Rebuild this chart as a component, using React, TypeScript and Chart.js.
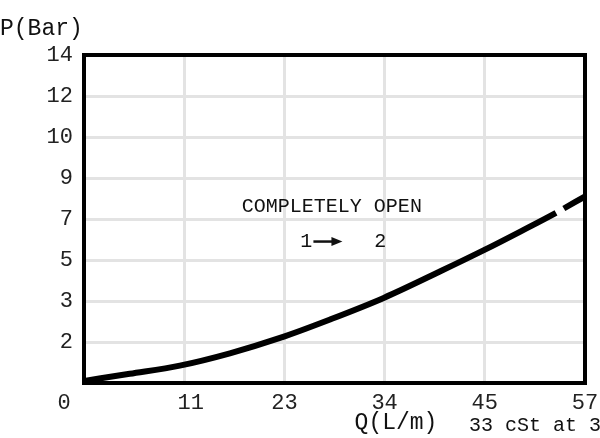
import React, { useEffect, useRef } from "react";
import { Chart, registerables } from "chart.js";

Chart.register(...registerables);

// Flow Q (L/m) and pressure P (Bar)
const flowQ = [0, 5.2, 10.9, 16.6, 22.3, 28.0, 34.1, 40.6, 45.5, 49.7, 53.7, 57];
const pressureBar = [0.1, 0.45, 0.85, 1.45, 2.1, 2.55, 3.15, 4.46, 5.48, 6.4, 7.3, 8.1];

// Y axis: evenly spaced grid rows carrying these (non-linear) pressure labels
const yTickValues = [0, 2, 3, 5, 7, 9, 10, 12, 14];
const yTickLabels = ["", "2", "3", "5", "7", "9", "10", "12", "14"];

// X axis labels on 5 equal divisions of 0..57
const xTickLabels = ["0", "11", "23", "34", "45", "57"];
const xMax = 57;

const MONO = "'Liberation Mono', 'DejaVu Sans Mono', monospace";

// Map a pressure to its position on the evenly spaced axis rows
function toRow(p: number): number {
  for (let i = 0; i < yTickValues.length - 1; i++) {
    const a = yTickValues[i];
    const b = yTickValues[i + 1];
    if (p <= b) return i + (p - a) / (b - a);
  }
  return yTickValues.length - 1;
}

const annotations = {
  id: "annotations",
  beforeDatasetsDraw(chart: any) {
    const { ctx, chartArea } = chart;
    ctx.save();
    ctx.strokeStyle = "#000";
    ctx.lineWidth = 4;
    ctx.strokeRect(
      chartArea.left,
      chartArea.top,
      chartArea.right - chartArea.left,
      chartArea.bottom - chartArea.top
    );
    ctx.restore();
  },
  afterDraw(chart: any) {
    const { ctx, scales } = chart;
    const xs = scales.x;
    const ys = scales.y;
    ctx.save();
    ctx.fillStyle = "#111";
    ctx.textBaseline = "middle";

    // axis titles
    ctx.font = `23px ${MONO}`;
    ctx.textAlign = "left";
    ctx.fillText("P(Bar)", 0, 29);
    ctx.textAlign = "center";
    ctx.fillText("Q(L/m)", 396, 423);
    ctx.font = `20px ${MONO}`;
    ctx.textAlign = "left";
    ctx.fillText("33 cSt at 3", 469, 426);

    // in-plot notes
    ctx.textAlign = "center";
    ctx.font = `20px ${MONO}`;
    const cx = xs.getPixelForValue(28.2);
    ctx.fillText("COMPLETELY OPEN", cx, ys.getPixelForValue(4.3));
    const ay = ys.getPixelForValue(3.45);
    ctx.fillText("1", xs.getPixelForValue(25.3), ay);
    ctx.fillText("2", xs.getPixelForValue(33.7), ay);
    const ax0 = xs.getPixelForValue(26.1);
    const ax1 = xs.getPixelForValue(29.4);
    ctx.strokeStyle = "#111";
    ctx.lineWidth = 2.5;
    ctx.beginPath();
    ctx.moveTo(ax0, ay);
    ctx.lineTo(ax1 - 8, ay);
    ctx.stroke();
    ctx.beginPath();
    ctx.moveTo(ax1, ay);
    ctx.lineTo(ax1 - 11, ay - 4.5);
    ctx.lineTo(ax1 - 11, ay + 4.5);
    ctx.closePath();
    ctx.fill();
    ctx.restore();
  },
};

export default function App() {
  const ref = useRef<HTMLCanvasElement | null>(null);

  useEffect(() => {
    if (!ref.current) return;
    const points = flowQ.map((q, i) => ({ x: q, y: toRow(pressureBar[i]) }));
    const last = points.length - 2;
    const chart = new Chart(ref.current, {
      type: "line",
      data: {
        datasets: [
          {
            data: points,
            borderColor: "#000",
            borderWidth: 6,
            pointRadius: 0,
            cubicInterpolationMode: "monotone",
            fill: false,
            segment: {
              borderDash: (c: any) => (c.p0DataIndex === last ? [24, 9] : undefined),
              borderDashOffset: (c: any) => (c.p0DataIndex === last ? 24 : 0),
            },
          },
        ],
      },
      options: {
        animation: false,
        responsive: false,
        layout: { padding: { left: 0, top: 55, right: 15, bottom: 0 } },
        plugins: {
          legend: { display: false },
          tooltip: { enabled: false },
          title: { display: false },
        },
        scales: {
          x: {
            type: "linear",
            min: 0,
            max: xMax,
            afterBuildTicks: (scale: any) => {
              scale.ticks = xTickLabels.map((_, i) => ({ value: (i * xMax) / (xTickLabels.length - 1) }));
            },
            afterFit: (scale: any) => {
              scale.height = 55;
              scale.paddingLeft = 0;
              scale.paddingRight = 0;
            },
            grid: {
              color: "#e3e3e3",
              lineWidth: (c: any) => (c.index === 0 || c.index === xTickLabels.length - 1 ? 0 : 3),
              drawTicks: false,
            },
            border: { display: false },
            ticks: {
              padding: 7,
              color: "#222",
              font: { family: MONO, size: 22 },
              maxRotation: 0,
              autoSkip: false,
              callback: (_v: any, i: number) =>
                i === 0 ? xTickLabels[i] + "   " : i === 1 ? " " + xTickLabels[i] : xTickLabels[i],
            },
          },
          y: {
            type: "linear",
            min: 0,
            max: yTickLabels.length - 1,
            afterFit: (scale: any) => {
              scale.width = 84;
              scale.paddingTop = 0;
              scale.paddingBottom = 0;
            },
            grid: {
              color: "#e3e3e3",
              lineWidth: (c: any) => (c.index === 0 || c.index === yTickLabels.length - 1 ? 0 : 3),
              drawTicks: false,
            },
            border: { display: false },
            ticks: {
              stepSize: 1,
              padding: 11,
              color: "#222",
              font: { family: MONO, size: 22 },
              autoSkip: false,
              callback: (v: any) => yTickLabels[Math.round(Number(v))] ?? "",
            },
          },
        },
      },
      plugins: [annotations],
    } as any);
    return () => chart.destroy();
  }, []);

  return (
    <div style={{ position: "fixed", left: 0, top: 0, width: 600, height: 438, background: "#fff" }}>
      <canvas ref={ref} width={600} height={438} style={{ display: "block" }} />
    </div>
  );
}
